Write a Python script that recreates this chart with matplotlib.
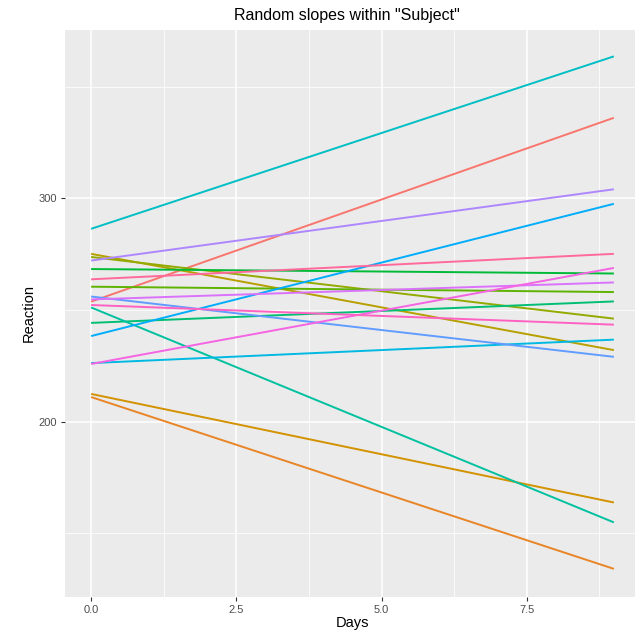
import numpy as np
import matplotlib
matplotlib.use("Agg")
import matplotlib.pyplot as plt

subjects = ["308", "309", "310", "330", "331", "332", "333", "334", "335",
            "337", "349", "350", "351", "352", "369", "370", "371", "372"]
start_reaction = [253.7, 211.0, 212.4, 275.1, 273.7, 260.4, 268.3, 244.2, 251.1,
                  286.3, 226.2, 238.3, 256.0, 272.1, 254.7, 225.8, 252.2, 263.7]
end_reaction = [336.0, 134.1, 163.8, 232.0, 246.1, 258.0, 266.3, 253.8, 154.9,
                363.5, 236.7, 297.5, 229.0, 304.0, 262.3, 268.8, 243.4, 275.1]
days_range = [0, 9]
x_ticks = [0.0, 2.5, 5.0, 7.5]
x_tick_labels = ["0.0", "2.5", "5.0", "7.5"]
y_ticks = [200, 300]


def hue_pal(n, l=65.0, c=100.0, h0=15.0):
    hues = np.linspace(h0, h0 + 360, n + 1)[:-1] % 360
    Xn, Yn, Zn = 95.047, 100.0, 108.883
    un = 4 * Xn / (Xn + 15 * Yn + 3 * Zn)
    vn = 9 * Yn / (Xn + 15 * Yn + 3 * Zn)
    Y = Yn * ((l + 16) / 116) ** 3
    out = []
    for h in hues:
        u = c * np.cos(np.radians(h))
        v = c * np.sin(np.radians(h))
        up = u / (13 * l) + un
        vp = v / (13 * l) + vn
        X = Y * 9 * up / (4 * vp)
        Z = Y * (12 - 3 * up - 20 * vp) / (4 * vp)
        xyz = np.array([X, Y, Z]) / 100.0
        M = np.array([[3.2404542, -1.5371385, -0.4985314],
                      [-0.9692660, 1.8760108, 0.0415560],
                      [0.0556434, -0.2040259, 1.0572252]])
        rgb = M @ xyz
        rgb = np.where(rgb <= 0.0031308, 12.92 * rgb,
                       1.055 * np.power(np.clip(rgb, 0, None), 1 / 2.4) - 0.055)
        out.append(tuple(np.clip(rgb, 0, 1)))
    return out


colors = hue_pal(len(subjects))

plt.rcParams['font.family'] = ['Liberation Sans', 'DejaVu Sans']
fig = plt.figure(figsize=(6.35, 6.30), dpi=100)
ax = fig.add_axes([65 / 635, 33 / 630, 575 / 635, 567 / 630])
ax.set_facecolor("#EBEBEB")

for s, y0, y1, col in zip(subjects, start_reaction, end_reaction, colors):
    ax.plot(days_range, [y0, y1], color=col, lw=1.4, solid_capstyle="butt", zorder=3)

ax.set_xlim(-0.45, 9.45)
ax.set_ylim(121.5, 375.3)
ax.set_xticks(x_ticks)
ax.set_xticklabels(x_tick_labels)
ax.set_xticks([1.25, 3.75, 6.25, 8.75], minor=True)
ax.set_yticks(y_ticks)
ax.set_yticks([150, 250, 350], minor=True)
ax.grid(which="major", color="white", lw=1.1, zorder=1)
ax.grid(which="minor", color="white", lw=0.55, zorder=1)
ax.set_axisbelow(True)
for sp in ax.spines.values():
    sp.set_visible(False)
ax.tick_params(which="major", length=3, width=0.8, color="#333333",
               labelcolor="#4D4D4D", labelsize=8, pad=3)
ax.tick_params(which="minor", length=0)

ax.set_xlabel("Days", fontsize=10.5, color="black", labelpad=0.5)
ax.set_ylabel("Reaction", fontsize=10.5, color="black", labelpad=1.5)
ax.set_title('Random slopes within "Subject"', fontsize=11.5, color="black", pad=7, x=0.49)

fig.savefig("out.png", dpi=100)
